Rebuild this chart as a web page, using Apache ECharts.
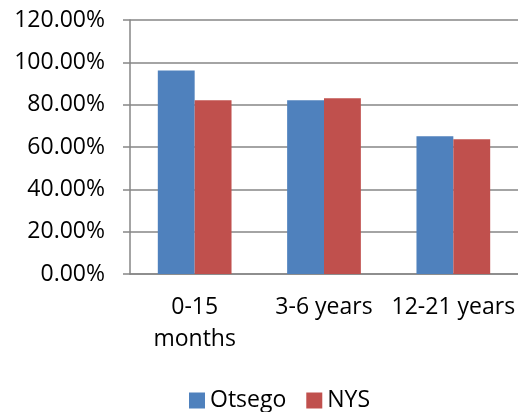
<!DOCTYPE html>
<html><head><meta charset="utf-8">
<script src="https://cdn.jsdelivr.net/npm/echarts@6/dist/echarts.min.js"></script>
<style>html,body{margin:0;padding:0;background:#fff}#c{width:518px;height:412px}</style>
</head><body><div id="c"></div>
<script>
const categories = ['0-15\nmonths', '3-6 years', '12-21 years'];
const otsego = [0.961, 0.821, 0.651];
const nys = [0.821, 0.830, 0.637];
const yTicks = [0, 0.2, 0.4, 0.6, 0.8, 1.0, 1.2];

const FONT = 'Open Sans';
const chart = echarts.init(document.getElementById('c'), null, {renderer: 'canvas'});
chart.setOption({
  animation: false,
  grid: {left: 130, right: -2, top: 20, bottom: 138, containLabel: false},
  legend: {
    top: 384, left: 184, itemWidth: 16, itemHeight: 16, itemGap: 20,
    icon: 'rect',
    textStyle: {fontFamily: FONT, fontSize: 23, color: '#000'},
    data: ['Otsego', 'NYS']
  },
  xAxis: {
    type: 'category', data: categories,
    axisLine: {lineStyle: {color: '#868686', width: 1.5}},
    axisTick: {length: 7, lineStyle: {color: '#868686', width: 1.5}},
    axisLabel: {fontFamily: FONT, fontSize: 23, color: '#000', margin: 17, lineHeight: 32, interval: 0}
  },
  yAxis: {
    type: 'value', min: yTicks[0], max: yTicks[yTicks.length - 1], interval: 0.2,
    axisLine: {show: true, lineStyle: {color: '#868686', width: 1.5}},
    axisTick: {show: true, length: 7, lineStyle: {color: '#868686', width: 1.5}},
    splitLine: {lineStyle: {color: '#868686', width: 1.5}},
    axisLabel: {fontFamily: FONT, fontSize: 23, color: '#000', margin: 25,
      formatter: v => (v * 100).toFixed(2) + '%'}
  },
  series: [
    {name: 'Otsego', type: 'bar', data: otsego, barGap: '0%', barCategoryGap: '43%',
     itemStyle: {color: '#4F81BD'}},
    {name: 'NYS', type: 'bar', data: nys, barGap: '0%', barCategoryGap: '43%',
     itemStyle: {color: '#C0504D'}}
  ]
});
</script></body></html>
